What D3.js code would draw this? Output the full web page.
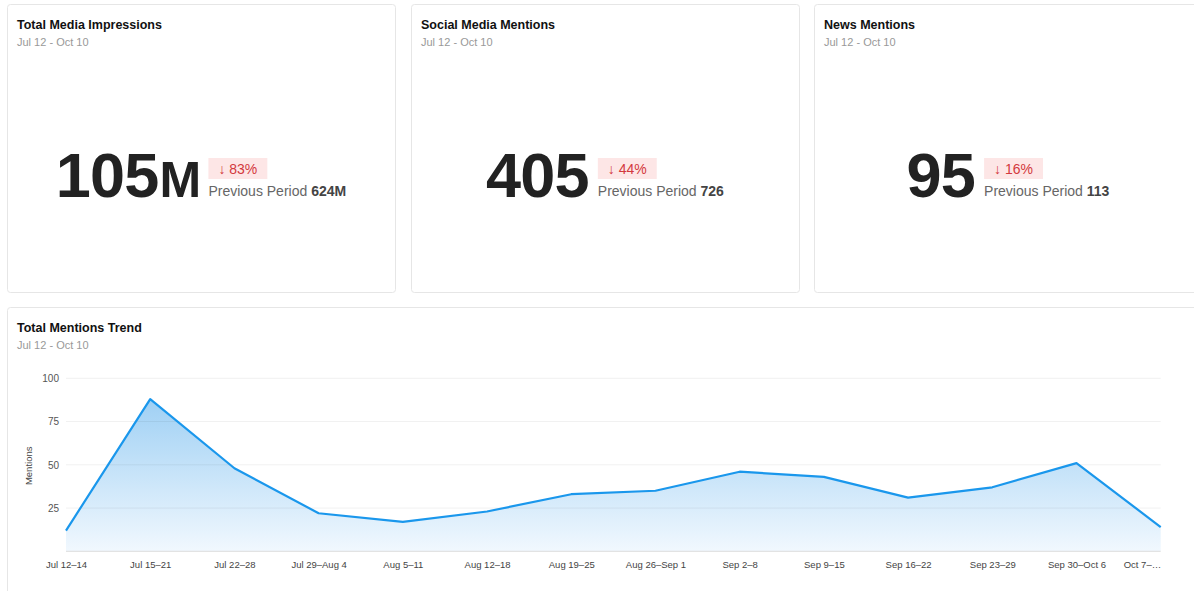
<!DOCTYPE html>
<html lang="en">
<head>
<meta charset="utf-8">
<title>Media Dashboard</title>
<script src="https://cdn.jsdelivr.net/npm/d3@7"></script>
<style>
    body { margin: 0; background: #fff; }
    svg { display: block; font-family: "Liberation Sans", Arial, sans-serif; }
</style>
</head>
<body>
<script>
    // KPI cards
    var kpiTitles = ["Total Media Impressions", "Social Media Mentions", "News Mentions"];
    var kpiValues = ["105", "405", "95"];
    var kpiUnits = ["M", "", ""];
    var kpiChanges = ["83%", "44%", "16%"];
    var kpiPrevious = ["624M", "726", "113"];
    var dateRange = "Jul 12 - Oct 10";

    // trend chart
    var weeks = ["Jul 12\u201314", "Jul 15\u201321", "Jul 22\u201328", "Jul 29\u2013Aug 4", "Aug 5\u201311",
        "Aug 12\u201318", "Aug 19\u201325", "Aug 26\u2013Sep 1", "Sep 2\u20138", "Sep 9\u201315",
        "Sep 16\u201322", "Sep 23\u201329", "Sep 30\u2013Oct 6", "Oct 7\u2013\u2026"];
    var mentions = [12, 88, 48, 22, 17, 23, 33, 35, 46, 43, 31, 37, 51, 14];
    var yTicks = [25, 50, 75, 100];

    var w = 1194, h = 591;

    var svg = d3.select("body").append("svg")
        .attr("width", w)
        .attr("height", h);

    var defs = svg.append("defs");
    var grad = defs.append("linearGradient")
        .attr("id", "areaFill")
        .attr("x1", 0).attr("y1", 0).attr("x2", 0).attr("y2", 1);
    grad.append("stop").attr("offset", "0%").attr("stop-color", "#9fd0f4");
    grad.append("stop").attr("offset", "100%").attr("stop-color", "#f1f8fe");

    // card geometry
    var cardW = 388, cardGap = 16, cardX0 = 7, cardY = 4, cardH = 288;

    kpiTitles.forEach(function(title, i) {
        var cx = cardX0 + i * (cardW + cardGap) - (i === 2 ? 1 : 0);
        var g = svg.append("g").attr("transform", "translate(" + cx + "," + cardY + ")");

        g.append("rect")
            .attr("x", 0.5).attr("y", 0.5)
            .attr("width", cardW).attr("height", cardH)
            .attr("rx", 3)
            .attr("fill", "#fff")
            .attr("stroke", "#e6e6e6");

        g.append("text")
            .attr("x", 10).attr("y", 25)
            .attr("font-size", 12.5).attr("font-weight", "bold")
            .attr("fill", "#111")
            .text(title);

        g.append("text")
            .attr("x", 10).attr("y", 42)
            .attr("font-size", 11).attr("fill", "#999")
            .text(dateRange);

        // big number
        var big = g.append("text")
            .attr("y", 193)
            .attr("font-weight", "bold")
            .attr("fill", "#222")
            .attr("letter-spacing", -0.8);
        big.append("tspan").attr("font-size", 63).text(kpiValues[i]);
        if (kpiUnits[i]) big.append("tspan").attr("font-size", 50).attr("dx", 1).text(kpiUnits[i]);

        var badge = g.append("g");
        var badgeRect = badge.append("rect")
            .attr("y", 154).attr("height", 21)
            .attr("fill", "#fde6e6");
        var badgeText = badge.append("text")
            .attr("y", 170)
            .attr("font-size", 14)
            .attr("fill", "#d3393d")
            .text("\u2193 " + kpiChanges[i]);

        var prev = g.append("text")
            .attr("y", 192)
            .attr("font-size", 14)
            .attr("fill", "#666");
        prev.append("tspan").text("Previous Period ");
        prev.append("tspan").attr("font-weight", "bold").attr("fill", "#444").text(kpiPrevious[i]);

        var bigW = big.node().getComputedTextLength();
        var tW = badgeText.node().getComputedTextLength();
        var bW = tW + 20;
        var pW = prev.node().getComputedTextLength();
        var gap = 9;
        var total = bigW + gap + Math.max(bW, pW);
        var x0 = cardW / 2 - total / 2;

        big.attr("x", x0);
        var sx = x0 + bigW + gap;
        badgeRect.attr("x", sx).attr("width", bW);
        badgeText.attr("x", sx + 10);
        prev.attr("x", sx);
    });

    // trend card
    var tg = svg.append("g").attr("transform", "translate(7,307)");
    tg.append("rect")
        .attr("x", 0.5).attr("y", 0.5)
        .attr("width", 1194).attr("height", 300)
        .attr("rx", 3)
        .attr("fill", "#fff")
        .attr("stroke", "#e6e6e6");
    tg.append("text")
        .attr("x", 10).attr("y", 25)
        .attr("font-size", 12.5).attr("font-weight", "bold")
        .attr("fill", "#111")
        .text("Total Mentions Trend");
    tg.append("text")
        .attr("x", 10).attr("y", 42)
        .attr("font-size", 11).attr("fill", "#999")
        .text(dateRange);

    var plotLeft = 66, plotRight = 1160.7, plotTop = 378.3, plotBottom = 551.3;

    var x = d3.scalePoint()
        .domain(weeks)
        .range([plotLeft, plotRight]);

    var y = d3.scaleLinear()
        .domain([0, 100])
        .range([plotBottom, plotTop]);

    var area = d3.area()
        .x(function(d, i) { return x(weeks[i]); })
        .y0(plotBottom)
        .y1(function(d) { return y(d); });

    var line = d3.line()
        .x(function(d, i) { return x(weeks[i]); })
        .y(function(d) { return y(d); });

    svg.append("path")
        .datum(mentions)
        .attr("d", area)
        .attr("fill", "url(#areaFill)");

    // gridlines (drawn over the fill)
    svg.append("g")
        .selectAll("line")
        .data(yTicks)
        .enter()
        .append("line")
        .attr("x1", plotLeft).attr("x2", plotRight)
        .attr("y1", function(d) { return y(d); })
        .attr("y2", function(d) { return y(d); })
        .attr("stroke", "#000")
        .attr("stroke-opacity", 0.06);

    svg.append("line")
        .attr("x1", plotLeft).attr("x2", plotRight)
        .attr("y1", plotBottom).attr("y2", plotBottom)
        .attr("stroke", "#dcdcdc");

    svg.append("path")
        .datum(mentions)
        .attr("d", line)
        .attr("fill", "none")
        .attr("stroke", "#1a97ec")
        .attr("stroke-width", 2.2)
        .attr("stroke-linejoin", "round");

    // y axis labels
    var yAxis = d3.axisLeft(y)
        .tickValues(yTicks)
        .tickSize(0)
        .tickPadding(7);
    var ya = svg.append("g")
        .attr("transform", "translate(" + plotLeft + ",0)")
        .call(yAxis);
    ya.select(".domain").remove();
    ya.selectAll("text")
        .attr("font-family", "Liberation Sans, Arial, sans-serif")
        .attr("font-size", 10)
        .attr("fill", "#555");

    svg.append("text")
        .attr("transform", "translate(32," + ((plotTop + plotBottom) / 2 + 1) + ") rotate(-90)")
        .attr("text-anchor", "middle")
        .attr("font-size", 9.5)
        .attr("fill", "#444")
        .text("Mentions");

    // x axis labels
    var xAxis = d3.axisBottom(x)
        .tickSize(0)
        .tickPadding(10);
    var xa = svg.append("g")
        .attr("transform", "translate(0," + plotBottom + ")")
        .call(xAxis);
    xa.select(".domain").remove();
    xa.selectAll("text")
        .attr("font-family", "Liberation Sans, Arial, sans-serif")
        .attr("font-size", 9.5)
        .attr("fill", "#444");
    xa.selectAll(".tick")
        .filter(function(d, i) { return i === weeks.length - 1; })
        .select("text")
        .attr("text-anchor", "end")
        .attr("dx", 0);
</script>
</body>
</html>
